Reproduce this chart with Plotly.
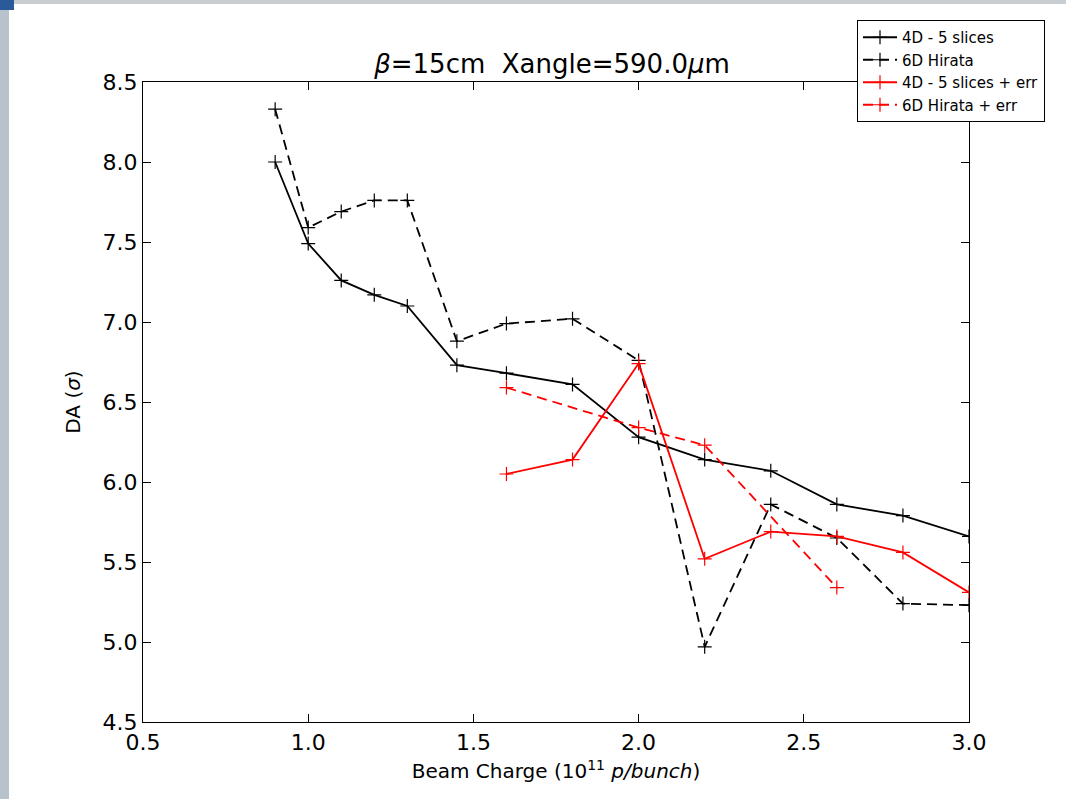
import plotly.graph_objects as go

x_4d = [0.9, 1.0, 1.1, 1.2, 1.3, 1.45, 1.6, 1.8, 2.0, 2.2, 2.4, 2.6, 2.8, 3.0]
y_4d = [8.00, 7.49, 7.26, 7.17, 7.10, 6.73, 6.68, 6.61, 6.28, 6.14, 6.07, 5.86, 5.79, 5.66]

x_6d = [0.9, 1.0, 1.1, 1.2, 1.3, 1.45, 1.6, 1.8, 2.0, 2.2, 2.4, 2.6, 2.8, 3.0]
y_6d = [8.33, 7.59, 7.69, 7.76, 7.76, 6.88, 6.99, 7.02, 6.76, 4.97, 5.86, 5.65, 5.24, 5.23]

x_4d_err = [1.6, 1.8, 2.0, 2.2, 2.4, 2.6, 2.8, 3.0]
y_4d_err = [6.05, 6.14, 6.74, 5.52, 5.69, 5.66, 5.56, 5.31]

x_6d_err = [1.6, 2.0, 2.2, 2.6]
y_6d_err = [6.59, 6.34, 6.23, 5.34]

x_ticks = [0.5, 1.0, 1.5, 2.0, 2.5, 3.0]
y_ticks = [4.5, 5.0, 5.5, 6.0, 6.5, 7.0, 7.5, 8.0, 8.5]

W, H = 1066, 799
L, R, T, B = 143, 969, 82, 722

def px_x(p):
    return (p - L) / (R - L)

def px_y(p):
    return (B - p) / (B - T)

fig = go.Figure()

def add(xs, ys, name, color, dash):
    fig.add_trace(go.Scatter(
        x=xs, y=ys, name=name, mode="lines+markers",
        line=dict(color=color, width=1.8, dash=dash),
        marker=dict(symbol="cross-thin", size=10, color=color,
                    line=dict(color=color, width=1.2)),
        cliponaxis=True,
    ))

add(x_4d, y_4d, "4D - 5 slices", "black", "solid")
add(x_6d, y_6d, "6D Hirata", "black", "10px,6px")
add(x_4d_err, y_4d_err, "4D - 5 slices + err", "red", "solid")
add(x_6d_err, y_6d_err, "6D Hirata + err", "red", "10px,6px")

axis_common = dict(
    showline=True, linecolor="black", linewidth=1.2, mirror="ticks",
    ticks="inside", ticklen=8, tickcolor="black", tickwidth=1,
    showgrid=False, zeroline=False,
    tickfont=dict(family="DejaVu Sans", size=22, color="black"),
)

fig.update_layout(
    width=W, height=H,
    margin=dict(l=L, r=W - R, t=T, b=H - B),
    paper_bgcolor="white", plot_bgcolor="white",
    title=dict(text="<i>β</i>=15cm  Xangle=590.0<i>μ</i>m", x=552 / W, xref="container", xanchor="center",
               y=1 - 73 / H, yref="container", yanchor="bottom",
               font=dict(family="DejaVu Sans", size=26, color="black")),
    xaxis=dict(range=[0.5, 3.0], tickvals=x_ticks, tickformat=".1f",
               title=dict(text="Beam Charge (10<sup>11</sup> <i>p/bunch</i>)", standoff=10,
                          font=dict(family="DejaVu Sans", size=20, color="black")),
               **axis_common),
    yaxis=dict(range=[4.5, 8.5], tickvals=y_ticks, tickformat=".1f",
               title=dict(text="DA (<i>σ</i>)", standoff=16,
                          font=dict(family="DejaVu Sans", size=20, color="black")),
               **axis_common),
    legend=dict(x=px_x(857), y=px_y(20), xref="paper", yref="paper",
                xanchor="left", yanchor="top",
                bgcolor="white", bordercolor="black", borderwidth=1,
                font=dict(family="DejaVu Sans", size=15, color="black"),
                tracegroupgap=0, itemwidth=34),
    showlegend=True,
    shapes=[
        dict(type="rect", xref="paper", yref="paper", x0=px_x(0), x1=px_x(9),
             y0=px_y(799), y1=px_y(0), fillcolor="#b8c2cc", line=dict(width=0), layer="below"),
        dict(type="rect", xref="paper", yref="paper", x0=px_x(0), x1=px_x(1066),
             y0=px_y(4), y1=px_y(0), fillcolor="#c8cdd2", line=dict(width=0), layer="below"),
        dict(type="rect", xref="paper", yref="paper", x0=px_x(0), x1=px_x(14),
             y0=px_y(10), y1=px_y(0), fillcolor="#2a5a9a", line=dict(width=0), layer="below"),
    ],
)

fig.write_html("out.html")
